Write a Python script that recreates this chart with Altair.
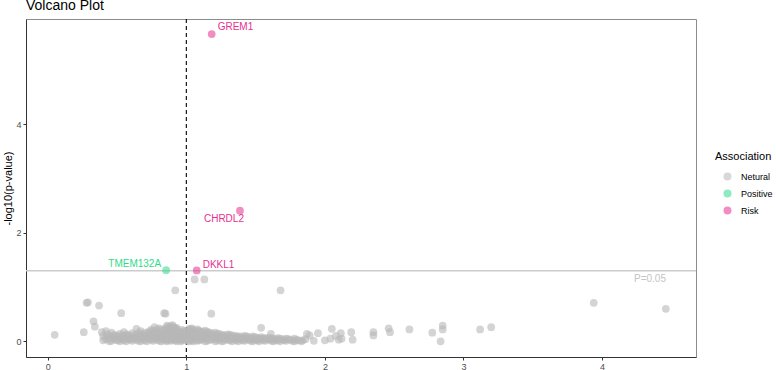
import altair as alt
import pandas as pd

# Genes with no significant association: (odds ratio, -log10 p)
neutral_outliers = [
    (0.05, 0.12), (0.26, 0.17), (0.28, 0.71), (0.29, 0.72), (0.37, 0.66),
    (0.33, 0.37), (0.34, 0.27), (0.39, 0.17), (0.42, 0.19), (0.53, 0.52),
    (0.64, 0.23), (0.77, 0.26), (0.84, 0.52), (0.85, 0.51), (0.92, 0.94),
    (1.06, 1.14), (1.13, 1.14), (1.18, 0.51), (1.68, 0.94), (1.54, 0.25),
    (1.61, 0.14), (2.05, 0.23), (2.19, 0.17), (2.20, 0.03), (2.35, 0.17),
    (2.35, 0.11), (2.46, 0.24), (2.47, 0.17), (2.61, 0.22), (2.775, 0.16),
    (2.85, 0.29), (2.85, 0.22), (2.835, 0.00), (3.12, 0.22), (3.20, 0.26),
    (3.94, 0.71), (4.46, 0.60), (2.115, 0.15), (2.10, 0.03), (2.04, 0.05),
    (2.00, 0.02), (1.95, 0.15), (1.89, 0.11), (1.87, 0.14), (1.84, 0.02),
    (2.12, 0.05), (2.08, 0.10),
]

# Bulk of the neutral genes, grouped by odds ratio
neutral_band = [
    (0.40, [0.02, 0.10]), (0.415, [0.05]),
    (0.43, [0.04, 0.13]), (0.445, [0.00, 0.09]),
    (0.46, [0.01, 0.08, 0.16]), (0.475, [0.05, 0.12]),
    (0.49, [0.03, 0.11]), (0.505, [0.02, 0.09]),
    (0.52, [0.00, 0.06, 0.14]), (0.535, [0.04, 0.11]),
    (0.55, [0.02, 0.09, 0.17]), (0.565, [0.00, 0.06, 0.13]),
    (0.58, [0.04, 0.12]), (0.595, [0.03, 0.09]),
    (0.61, [0.01, 0.07, 0.15]), (0.625, [0.05, 0.12]),
    (0.64, [0.03, 0.10]), (0.655, [0.01, 0.08, 0.15]),
    (0.67, [0.00, 0.06, 0.13, 0.19]), (0.685, [0.04, 0.11]),
    (0.70, [0.02, 0.09, 0.16]), (0.715, [0.00, 0.07, 0.14]),
    (0.73, [0.04, 0.11, 0.18]), (0.745, [0.03, 0.09, 0.16, 0.21]),
    (0.76, [0.01, 0.07, 0.14, 0.20]), (0.775, [0.05, 0.12, 0.18]),
    (0.79, [0.03, 0.10, 0.17, 0.22]), (0.805, [0.01, 0.08, 0.15, 0.24]),
    (0.82, [0.00, 0.06, 0.13, 0.21]), (0.835, [0.04, 0.11, 0.19]),
    (0.85, [0.02, 0.09, 0.16, 0.24]), (0.86, [0.00, 0.07, 0.14, 0.22, 0.29]),
    (0.87, [0.04, 0.12, 0.20, 0.27]), (0.88, [0.03, 0.10, 0.18, 0.25]),
    (0.89, [0.01, 0.08, 0.15, 0.23, 0.28]), (0.90, [0.05, 0.13, 0.21, 0.30]),
    (0.91, [0.03, 0.11, 0.19, 0.26]), (0.92, [0.02, 0.09, 0.17, 0.24]),
    (0.93, [0.00, 0.07, 0.14, 0.22, 0.25]), (0.94, [0.04, 0.10, 0.16]),
    (0.95, [0.05, 0.12, 0.18]), (0.96, [0.00, 0.07, 0.14]),
    (0.97, [0.02, 0.09, 0.16, 0.21]), (0.98, [0.03, 0.08, 0.13, 0.19]),
    (0.99, [0.04, 0.11, 0.17]), (1.00, [0.05, 0.12]),
    (1.01, [0.01, 0.08, 0.15, 0.20]), (1.02, [0.00, 0.06, 0.13, 0.23]),
    (1.03, [0.03, 0.10, 0.18, 0.22]), (1.04, [0.02, 0.09, 0.16, 0.24]),
    (1.05, [0.00, 0.07, 0.14, 0.21]), (1.06, [0.04, 0.11, 0.17]),
    (1.07, [0.05, 0.12, 0.19]), (1.08, [0.01, 0.08, 0.15, 0.22]),
    (1.09, [0.02, 0.09, 0.16, 0.20]), (1.105, [0.03, 0.10, 0.18]),
    (1.12, [0.04, 0.11, 0.17]), (1.135, [0.00, 0.06, 0.13, 0.20]),
    (1.15, [0.01, 0.08, 0.14, 0.18]), (1.165, [0.03, 0.11, 0.16]),
    (1.18, [0.03, 0.10, 0.15]), (1.195, [0.05, 0.08, 0.13]),
    (1.21, [0.00, 0.06, 0.12, 0.16]), (1.225, [0.02, 0.09, 0.14]),
    (1.24, [0.04, 0.09, 0.14]), (1.255, [0.00, 0.06, 0.11]),
    (1.27, [0.01, 0.07, 0.12]), (1.285, [0.04, 0.10]),
    (1.30, [0.03, 0.08, 0.13]), (1.315, [0.02, 0.07, 0.12]),
    (1.33, [0.00, 0.06, 0.11]), (1.345, [0.04, 0.09]),
    (1.36, [0.02, 0.07, 0.10]), (1.375, [0.00, 0.05, 0.08]),
    (1.39, [0.04, 0.09]), (1.405, [0.02, 0.07]),
    (1.42, [0.01, 0.06, 0.10]), (1.435, [0.04, 0.09]),
    (1.45, [0.03, 0.08]), (1.465, [0.01, 0.06]),
    (1.48, [0.00, 0.05, 0.09]), (1.495, [0.03, 0.08]),
    (1.51, [0.02, 0.07]), (1.525, [0.00, 0.05]),
    (1.54, [0.04, 0.08]), (1.555, [0.02, 0.06]),
    (1.57, [0.01, 0.06]), (1.585, [0.04]),
    (1.60, [0.03, 0.07]), (1.615, [0.01, 0.05]),
    (1.63, [0.00, 0.05]), (1.645, [0.03]),
    (1.66, [0.02, 0.06]), (1.675, [0.00, 0.05]),
    (1.69, [0.04]), (1.705, [0.02]),
    (1.72, [0.01, 0.05]), (1.735, [0.04]),
    (1.75, [0.03]), (1.765, [0.01]),
    (1.78, [0.00, 0.05]), (1.795, [0.03]),
    (1.81, [0.02]), (1.83, [0.00]),
    (1.86, [0.04]), (1.92, [0.01]),
]

# Significant genes
sig_genes = ["GREM1", "CHRDL2", "DKKL1", "TMEM132A"]
sig_or = [1.183, 1.387, 1.075, 0.854]
sig_logp = [5.66, 2.406, 1.306, 1.31]
sig_assoc = ["Risk", "Risk", "Risk", "Positive"]

categories = ["Netural", "Positive", "Risk"]
palette = ["#b8b8b8", "#2edb8a", "#e7308f"]

p_cutoff = 1.301  # -log10(0.05)
or_ref = 1.0

neutral_x = [x for x, _ in neutral_outliers]
neutral_y = [y for _, y in neutral_outliers]
for x, ys in neutral_band:
    for y in ys:
        neutral_x.append(x)
        neutral_y.append(y)

neutral_df = pd.DataFrame({
    "gene": [f"g{i}" for i in range(len(neutral_x))],
    "OR": neutral_x,
    "logp": neutral_y,
    "Association": "Netural",
})
sig_df = pd.DataFrame({
    "gene": sig_genes, "OR": sig_or, "logp": sig_logp, "Association": sig_assoc,
})

FONT = "Liberation Sans"
x_scale = alt.Scale(domain=[-0.157, 4.678], nice=False, zero=False)
y_scale = alt.Scale(domain=[-0.288, 5.937], nice=False, zero=False)
color_scale = alt.Scale(domain=categories, range=palette)

x_enc = alt.X("OR:Q", scale=x_scale,
              axis=alt.Axis(values=[0, 1, 2, 3, 4], format="d", title=None, grid=False))
y_enc = alt.Y("logp:Q", scale=y_scale,
              axis=alt.Axis(values=[0, 2, 4], format="d", title="-log10(p-value)", grid=False))

hline = alt.Chart(pd.DataFrame({"logp": [p_cutoff]})).mark_rule(
    color="#cccccc", strokeWidth=1.6
).encode(y=alt.Y("logp:Q", scale=y_scale))

vline = alt.Chart(pd.DataFrame({"OR": [or_ref]})).mark_rule(
    color="black", strokeWidth=1.1, strokeDash=[4, 3]
).encode(x=alt.X("OR:Q", scale=x_scale))

pts_neutral = alt.Chart(neutral_df).mark_circle(size=60, opacity=0.6).encode(
    x=x_enc, y=y_enc,
    color=alt.Color("Association:N", scale=color_scale,
                    legend=alt.Legend(title="Association")),
)
pts_sig = alt.Chart(sig_df).mark_circle(size=60, opacity=0.55).encode(
    x="OR:Q", y="logp:Q",
    color=alt.Color("Association:N", scale=color_scale),
)


def gene_label(gene, color, align, dx, dy):
    return alt.Chart(sig_df).transform_filter(
        alt.datum.gene == gene
    ).mark_text(
        color=color, align=align, baseline="middle", dx=dx, dy=dy,
        fontSize=10, font=FONT,
    ).encode(x="OR:Q", y="logp:Q", text="gene:N")


labels = [
    gene_label("GREM1", "#e7308f", "left", 6, -7),
    gene_label("CHRDL2", "#e7308f", "center", -16, 8),
    gene_label("DKKL1", "#e7308f", "left", 6, -5),
    gene_label("TMEM132A", "#2edb8a", "right", -5, -6),
]

p_text = alt.Chart(pd.DataFrame({"OR": [4.346], "logp": [1.155], "t": ["P=0.05"]})).mark_text(
    color="#c4c4c4", fontSize=10, font=FONT, align="center", baseline="middle"
).encode(x="OR:Q", y="logp:Q", text="t:N")

chart = alt.layer(
    hline, vline, pts_neutral, pts_sig, *labels, p_text
).properties(
    width=670, height=338,
    title=alt.Title("Volcano Plot", anchor="start", fontSize=14, fontWeight="normal",
                    font=FONT, color="black", baseline="bottom", offset=6, dy=15,
                    frame="group"),
    autosize=alt.AutoSizeParams(type="none"),
    padding={"left": 26, "top": 19, "right": 80, "bottom": 13},
).configure_view(
    stroke="#8c8c8c", strokeWidth=1
).configure_axis(
    labelFont=FONT, titleFont=FONT, labelFontSize=9, labelColor="#4d4d4d",
    tickColor="#333333", tickSize=3, labelPadding=2, domainColor="#333333",
    titleFontSize=11, titleFontWeight="normal", titleColor="black",
).configure_axisY(
    titlePadding=2
).configure_legend(
    orient="none", legendX=689, legendY=132, padding=0,
    titleFont=FONT, titleFontSize=11, titleFontWeight="normal", titleColor="black",
    titlePadding=10, labelFont=FONT, labelFontSize=9, labelColor="black",
    symbolSize=64, symbolOpacity=0.55, symbolStrokeWidth=0, symbolType="circle",
    symbolOffset=8, labelOffset=9, rowPadding=7,
)

chart.save("out.html", embed_options={"renderer": "svg", "actions": False})
